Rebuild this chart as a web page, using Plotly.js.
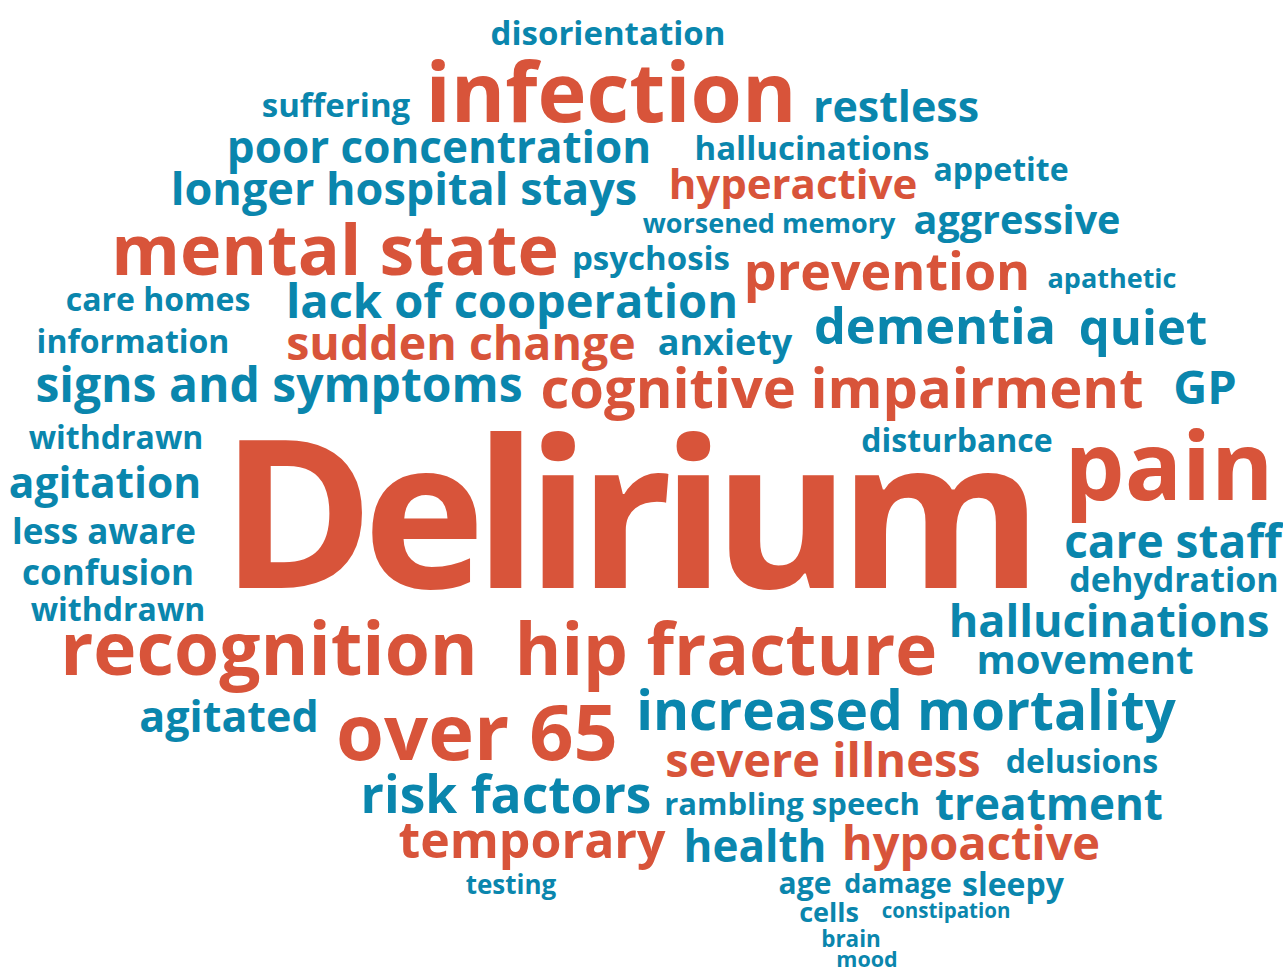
<!DOCTYPE html>
<html>
<head>
<meta charset="utf-8">
<script src="https://cdn.plot.ly/plotly-3.0.1.min.js"></script>
<style>
html,body{margin:0;padding:0;background:#fff;}
#chart{width:1283px;height:967px;}
#chart text[data-unformatted="Delirium"]{letter-spacing:-11px;}
</style>
</head>
<body>
<div id="chart"></div>
<script>
// Word cloud data
const words = ["disorientation","infection","suffering","restless","poor concentration","hallucinations",
  "longer hospital stays","hyperactive","appetite","worsened memory","aggressive","mental state",
  "psychosis","prevention","apathetic","care homes","lack of cooperation","information","sudden change",
  "anxiety","dementia","quiet","signs and symptoms","cognitive impairment","GP","withdrawn",
  "disturbance","Delirium","pain","agitation","less aware","care staff","confusion","dehydration",
  "withdrawn","hallucinations","recognition","hip fracture","movement","agitated","increased mortality",
  "over 65","severe illness","delusions","risk factors","rambling speech","treatment","temporary",
  "health","hypoactive","testing","age","damage","sleepy","cells","constipation","brain","mood"];
// group: 1 = highlighted (orange), 0 = regular (blue)
const groups = [0,1,0,0,0,0, 0,1,0,0,0,1, 0,1,0,0,0,0,1, 0,0,0,0,1,0,0, 0,1,1,0,0,0,0,0, 0,0,1,1,0,0,0, 1,1,0,0,0,0,1, 0,1,0,0,0,0,0,0,0,0];
const sizes = [33,83,33,43,44,33, 45,42,32,27,39.5,70, 33,52,27,32,47,32,46.5, 36,50.5,49,48,56,47,32, 32,207,95,42.5,35,46,35,34, 32,45,73,71,40,43,55, 77.5,47,32,51.5,31,44,50, 44,47,26,30,27,32,27,20.5,22.5,21.5];
const xs = [608,611,336,896,439,812, 404,793,1001,769,1017,335, 651,887,1112,158,512,133,461, 725,935,1143,279,842,1205,116, 957,626,1169,105,104,1173,108,1174, 118,1109,269,726,1085,229,906, 477,823,1082,506,792,1049,532, 755,971,511,805,898,1013,829,946,851,867];
const ys = [37,101,109,111,152,152, 194,188,173,226,224,257, 262,277,281,303,306,345,348, 346,331,333,390,394,392,441, 444,536,476,487,535,546,576,583, 613,626,657,657,664,721,716, 741,765,765,800,807,809,845, 851,848,887,886,886,888,915,913,941,962];

const palette = ["#0A86AD", "#D8543A"];
const colors = groups.map(g => palette[g]);

const trace = {
  type: "scatter",
  mode: "text",
  x: xs,
  y: ys,
  text: words,
  textposition: "middle center",
  textfont: {family: "Open Sans", size: sizes, color: colors, weight: 700},
  hoverinfo: "text"
};

const layout = {
  width: 1283, height: 967,
  margin: {l: 0, r: 0, t: 0, b: 0},
  paper_bgcolor: "#ffffff", plot_bgcolor: "#ffffff",
  xaxis: {range: [0, 1283], visible: false, fixedrange: true},
  yaxis: {range: [967, 0], visible: false, fixedrange: true},
  showlegend: false
};

Plotly.newPlot("chart", [trace], layout, {displayModeBar: false, staticPlot: true});
</script>
</body>
</html>
